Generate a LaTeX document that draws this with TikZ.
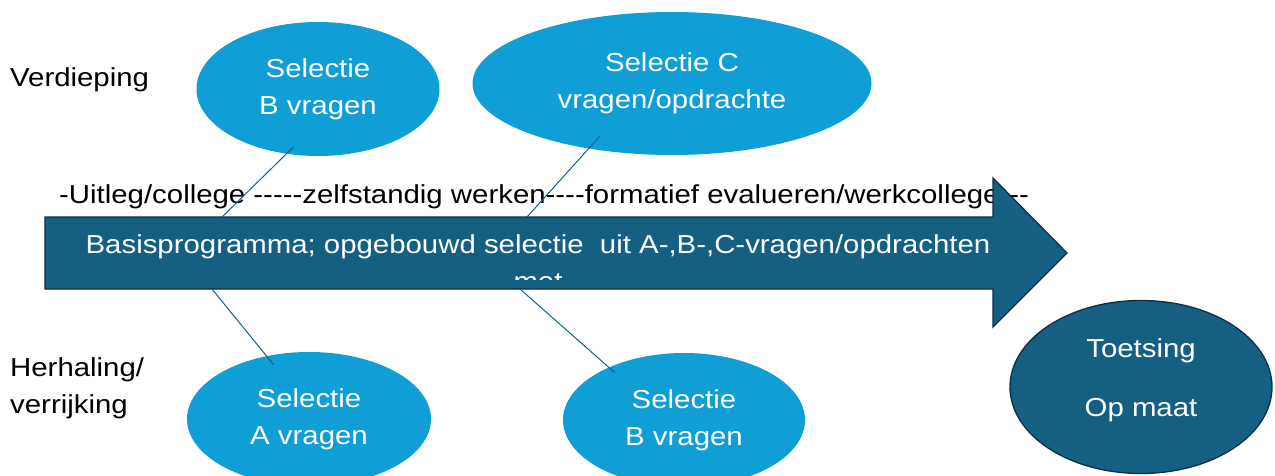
\documentclass[tikz,border=0pt]{standalone}
\usepackage{fontspec}
\setmainfont{Liberation Sans}[FakeStretch=1.13]
\usepackage{xcolor}
\usetikzlibrary{shapes.geometric}
\definecolor{lightblue}{HTML}{0F9ED5}
\definecolor{darkblue}{HTML}{156082}
\definecolor{edge}{HTML}{0C2F42}

\begin{document}
\begin{tikzpicture}[
			     x=1pt, y=-1pt,
			     font=\fontsize{26}{37}\selectfont,
			     selection/.style={ellipse, fill=lightblue, text=white, inner sep=0pt, align=center},
			     assessment/.style={ellipse, fill=darkblue, draw=edge, line width=1.3pt, text=white, inner sep=0pt, align=center},
			     connector/.style={darkblue, line width=1pt}
			     ]
\useasboundingbox (0,0) rectangle (1275,476);
\node[anchor=base west, inner sep=0pt] (deep) at (10,87) {Verdieping};
\node[anchor=north west, inner sep=0pt, align=left] (repeat) at (10,357.4) {Herhaling/\\verrijking};
\node[anchor=base west, inner sep=0pt] (phases) at (59,204) {-Uitleg/college -{}-{}-{}-{}-zelfstandig werken-{}-{}-{}-formatief evalueren/werkcollege-{}-{}-};
% basisprogramma
\draw[fill=darkblue, draw=edge, line width=1.3pt] (45,217) -- (993,217) -- (993,178) -- (1067,253) -- (993,327) -- (993,289) -- (45,289) -- cycle;
\begin{scope}
\clip (45,217) rectangle (993,279.5);
\node[anchor=north, inner sep=0pt, align=center, text=white] (base) at (538,234.2) {Basisprogramma; opgebouwd selectie\ \ uit A-,B-,C-vragen/opdrachten\\met};
\end{scope}
\coordinate (a1) at (222,217);
\coordinate (a2) at (527,217);
\coordinate (a3) at (212,289);
\coordinate (a4) at (520,289);
\node[selection, minimum width=243pt, minimum height=134pt] (selB) at (318,89) {Selectie\\B vragen};
\node[selection, minimum width=399pt, minimum height=143pt] (selC) at (672,83.5) {Selectie C\\vragen/opdrachte};
\node[selection, minimum width=244pt, minimum height=134pt] (selA) at (309,419) {Selectie\\A vragen};
\node[selection, minimum width=242pt, minimum height=134pt] (selBlow) at (684,420) {Selectie\\B vragen};
\node[assessment, minimum width=262pt, minimum height=173pt, text depth=19.4pt] (test) at (1141,387) {Toetsing\\[22pt]Op maat};
\draw[connector, shorten >=-9.5pt] (a1) -- (selB.244);
\draw[connector, shorten >=-17pt] (a2) -- (selC.218.3);
\draw[connector, shorten >=-11pt] (a3) -- (selA.124.5);
\draw[connector, shorten >=-8pt] (a4) -- (selBlow.145.2);
\end{tikzpicture}
\end{document}
